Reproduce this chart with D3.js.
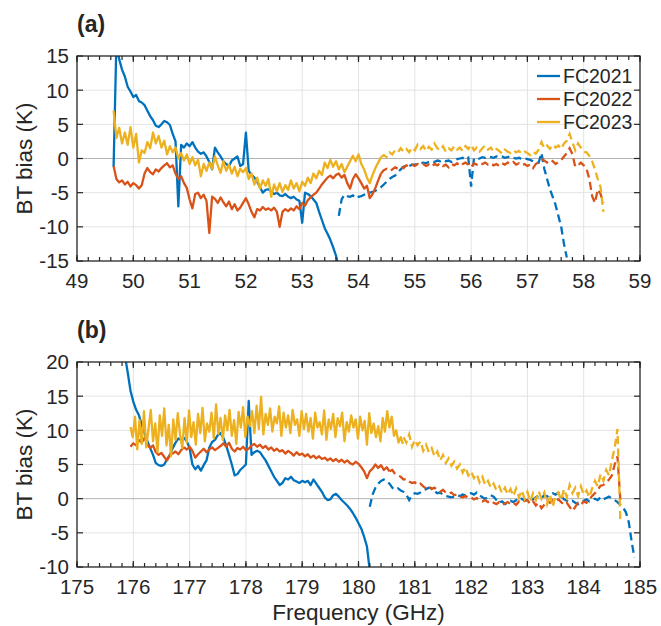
<!DOCTYPE html>
<html>
<head>
<meta charset="utf-8">
<script src="https://cdn.jsdelivr.net/npm/d3@7"></script>
<style>
  body { margin: 0; background: #fff; }
  svg { display: block; }
  text { font-family: "Liberation Sans", Arial, Helvetica, sans-serif; fill: #262626; }
</style>
</head>
<body>
<div id="chart"></div>
<script>
// legend / series names
const names = ["FC2021", "FC2022", "FC2023"]
const colors = ["#0072BD", "#D95319", "#EDB120"]

// tick labels
const xTicksA = [49, 50, 51, 52, 53, 54, 55, 56, 57, 58, 59]
const yTicksA = [-15, -10, -5, 0, 5, 10, 15]
const xTicksB = [175, 176, 177, 178, 179, 180, 181, 182, 183, 184, 185]
const yTicksB = [-10, -5, 0, 5, 10, 15, 20]

// panel (a), 0.05 GHz sampling, solid part then dashed part
const a2021Solid = [-1.2, 17, 14.5, 13.0, 12.0, 10.5, 9.8, 9.0, 9.3, 8.4, 8.2, 7.8, 7.0, 6.2, 5.6, 4.8, 4.6, 5.0, 5.5, 5.3,
  4.9, 3.6, 2.5, -7.0, 2.0, 1.6, 2.2, 1.8, 2.4, 1.6, 1.0, 0.7, 0.9, 0.3, -0.5, -1.6, 1.6, 0.9, 0.3, -0.4,
  -0.8, -1.1, -0.3, 0.0, 0.3, -1.1, -0.8, 3.8, -1.8, -2.4, -2.8, -3.4, -4.2, -5.0, -4.6, -4.5, -4.8, -5.2, -5.0, -5.4,
  -5.5, -5.2, -5.6, -5.8, -5.6, -6.0, -6.2, -9.4, -5.0, -5.2, -5.5, -6.0, -6.5, -7.8, -9.0, -10.2, -11.0, -11.9, -13.0, -14.2, -16]
const a2021Dash = [-8.4, -6.0, -5.3, -5.5, -5.6, -5.4, -5.8, -5.6, -5.5, -5.3, -5.2, -5.0, -4.9, -4.7, -4.5, -4.2, -3.8, -3.4, -3.0, -2.7,
  -2.5, -2.0, -1.6, -1.2, -1.0, -1.1, -0.9, -0.9, -0.8, -0.7, -0.6, -0.7, -0.5, -0.4, -0.5, -0.3, -0.4, -0.2, -0.4, -0.3,
  -0.5, -0.3, -0.1, 0.0, 0.1, -0.2, 0.1, -4.1, 0.0, -0.1, 0.0, 0.2, 0.1, 0.3, 0.2, 0.1, 0.3, 0.2, 0.3, 0.1,
  0.2, 0.3, 0.1, 0.0, 0.1, -0.1, 0.0, -0.1, -0.2, -0.4, -0.5, -0.6, 0.8, -1.5, -3.0, -4.5, -5.6, -6.8, -8.4, -10.0, -12.5, -14.5]
const a2022Solid = [-1.1, -3.0, -3.5, -3.2, -3.8, -3.4, -4.1, -3.6, -3.9, -4.4, -3.9, -2.2, -1.4, -2.0, -2.3, -1.6, -1.9, -1.4, -1.0, -0.7,
  -1.3, -1.0, -2.2, -3.0, -2.6, -3.6, -4.3, -6.0, -7.3, -5.2, -5.0, -5.8, -5.3, -6.2, -10.9, -5.6, -5.9, -6.5, -5.7, -6.4,
  -7.0, -6.3, -7.4, -6.7, -7.6, -7.2, -6.5, -5.8, -6.7, -7.8, -8.6, -7.4, -7.6, -7.1, -7.5, -7.3, -7.6, -7.2, -7.8, -10.0,
  -7.8, -7.4, -7.7, -7.3, -7.6, -7.0, -7.4, -6.5, -6.9, -6.1, -5.7, -5.3, -5.0, -4.4, -3.8, -3.3, -2.8, -2.5, -2.9, -2.4,
  -2.2, -2.8, -2.4, -3.6, -4.4, -3.0, -2.3, -2.9, -3.6, -4.4, -4.0, -5.8, -5.2, -4.3, -3.2, -2.2]
const a2022Dash = [-2.2, -1.7, -1.5, -1.8, -1.6, -1.3, -1.5, -1.2, -1.4, -1.0, -1.2, -0.9, -1.1, -0.8, -1.0, -0.8, -1.1, -0.9, -1.2, -0.8,
  -1.0, -0.7, -1.1, -0.9, -1.3, -0.8, -1.0, -0.7, -1.1, -0.8, -0.6, -0.9, -1.3, -0.7, -0.9, -0.6, -0.8, -0.6, -0.9, -0.7,
  -1.0, -0.8, -1.1, -0.7, -0.9, -0.6, -0.8, -0.5, -0.9, -0.7, -1.0, -0.8, -1.1, -0.9, -1.4, -0.8, -0.5, -0.1, -0.3, -0.6,
  -0.2, -0.4, -0.8, -0.5, -0.2, 0.3, 0.8, 1.5, 0.6, -1.2, -1.0, -0.6, -1.0, -1.5, -3.0, -5.5, -6.5, -4.5, -5.2, -6.5]
const a2023Solid = [7.0, 3.0, 4.5, 2.2, 3.8, 2.0, 4.6, 1.6, 3.6, -0.6, 1.2, 0.8, 2.4, 1.5, 3.8, 2.2, 3.3, 1.6, 2.6, 0.6,
  1.8, 0.9, 1.6, 0.0, 0.8, -0.3, 0.6, -0.8, 0.2, -1.0, -0.2, -2.6, -0.8, -1.8, -0.6, -1.5, 0.3, -1.0, -2.1, -0.4,
  -1.8, -0.9, -2.2, -1.2, -2.6, -1.5, -2.0, -1.4, -3.0, -2.2, -3.8, -2.8, -4.4, -3.2, -4.0, -3.0, -5.6, -3.8, -4.8, -3.6,
  -4.9, -3.9, -4.6, -3.2, -4.4, -3.6, -4.8, -3.4, -4.0, -2.8, -3.6, -2.2, -2.9, -1.8, -2.4, -0.6, -1.4, -0.2, -1.2, -0.4,
  -1.6, -0.8, -2.0, -1.2, -0.4, 0.4, -0.4, 0.6, -0.8, -1.6, -2.8, -3.6, -2.4, -1.4, -0.6, 0.2]
const a2023Dash = [0.2, 0.5, 0.2, 0.9, 0.6, 1.2, 0.9, 1.5, 1.0, 1.4, 0.9, 1.6, 1.2, 2.0, 1.4, 1.8, 1.1, 1.7, 1.3, 2.2,
  1.5, 1.2, 1.8, 1.0, 1.5, 1.2, 1.8, 1.3, 1.6, 1.1, 1.8, 1.4, 2.0, 1.2, 1.6, 1.0, 1.5, 1.9, 1.3, 1.6,
  1.0, 1.4, 1.1, 0.7, 1.3, 1.0, 0.8, 1.2, 0.9, 1.1, 0.7, 1.0, 0.8, 0.5, 1.0, 0.7, 1.3, 2.4, 1.5, 1.9,
  1.4, 2.0, 1.6, 1.9, 1.4, 2.2, 2.6, 3.6, 2.4, 1.2, 2.2, 1.6, 1.0, 0.9, 0.4, -0.4, -1.6, -3.0, -4.2, -7.8]

// panel (b)
const b2021Solid = [21, 18.5, 15.8, 14.2, 13.0, 12.2, 10.8, 9.6, 8.4, 7.4, 6.4, 5.2, 4.9, 4.8, 5.0, 5.8, 6.4, 7.4, 8.2, 8.8,
  8.6, 8.9, 8.4, 7.4, 5.0, 4.3, 4.8, 4.1, 4.9, 5.6, 7.5, 8.3, 8.6, 9.3, 9.6, 8.9, 7.8, 6.4, 5.0, 3.4,
  3.6, 4.2, 4.6, 5.0, 14.3, 6.4, 6.8, 7.0, 6.8, 6.2, 5.6, 4.8, 4.0, 3.2, 2.6, 2.0, 2.3, 3.0, 2.8, 3.2,
  2.7, 2.5, 2.3, 2.6, 2.4, 2.6, 2.0, 2.8, 2.2, 1.6, 1.0, 0.2, -0.2, -0.1, 0.5, 0.7, 0.3, -0.2, -0.6, -1.0,
  -1.5, -2.1, -2.8, -3.6, -4.4, -5.6, -7.0, -10.5]
const b2021Dash = [-1.2, 0.6, 1.6, 2.2, 2.6, 2.8, 2.6, 2.2, 1.6, 1.3, 1.5, 1.2, 1.0, 0.6, -0.2, 0.5, 0.8, 0.7, 0.9, 1.2,
  1.4, 1.6, 1.5, 1.1, 0.8, 0.9, 0.6, 0.4, 0.3, 0.2, 0.3, 0.5, 0.4, 0.6, 0.5, 0.7, 0.8, 0.6, 0.9, 0.5,
  0.2, 0.0, 0.2, 0.5, 0.3, -0.2, -0.6, -0.4, -0.8, -0.6, -0.3, -0.5, -0.2, -0.4, 0.0, -0.3, -0.2, 0.1, -0.1, 0.2,
  0.4, 0.1, 0.5, 0.3, 0.6, 0.8, 0.6, 0.9, 0.4, -0.1, -0.3, -0.5, -0.3, -0.6, -0.8, -0.5, -0.3, -0.1, -0.4, -0.2,
  0.0, -0.2, 0.2, -0.1, 0.1, 0.3, 0.0, -0.2, -0.5, -0.9, -1.3, -2.0, -3.4, -6.2, -8.6]
const b2022Solid = [7.6, 8.1, 7.8, 8.6, 8.2, 8.9, 7.9, 7.4, 7.8, 6.8, 6.4, 6.7, 6.1, 5.6, 6.4, 6.6, 6.9, 6.5, 7.1, 7.5,
  7.2, 7.6, 7.0, 6.0, 6.5, 6.9, 7.3, 6.8, 7.2, 7.5, 7.1, 7.4, 7.7, 8.1, 7.6, 8.2, 7.3, 6.9, 7.4, 7.2,
  7.6, 7.1, 7.3, 7.8, 8.0, 7.6, 7.9, 7.4, 7.7, 7.2, 7.5, 7.0, 7.3, 6.9, 7.1, 6.6, 7.0, 6.7, 6.3, 6.8,
  6.4, 6.6, 6.2, 6.5, 6.0, 6.3, 5.9, 6.2, 5.8, 6.0, 5.6, 5.9, 5.5, 5.8, 5.4, 5.7, 5.3, 5.6, 5.2, 5.0,
  5.4, 5.1, 4.6, 4.0, 3.0, 4.0, 4.4, 5.0, 4.5, 4.9, 4.2, 4.6, 4.0]
const b2022Dash = [4.0, 4.2, 3.6, 3.4, 3.2, 2.8, 2.9, 2.5, 2.3, 2.4, 2.0, 2.2, 1.8, 1.5, 1.8, 1.4, 1.6, 1.2, 1.0, 1.3,
  0.9, 0.7, 0.9, 0.5, 0.6, 0.3, 0.2, 0.4, 0.1, 0.2, -0.1, 0.1, -0.2, -0.4, -0.2, -0.5, -0.3, -0.6, -0.8, -0.5,
  -0.9, -0.7, -0.5, -0.8, -0.6, -0.9, -0.4, -0.6, -0.3, -0.2, -0.8, -0.4, -1.0, -0.6, -1.4, -0.9, -0.3, -0.6, -0.2, -0.4,
  -0.1, -0.5, -0.9, -0.6, -1.2, -1.8, -1.2, -0.6, -0.9, -0.4, -0.6, -0.1, 0.4, 0.8, 1.3, 1.9, 2.0, 2.4, 2.8, 3.4,
  5.0, 6.2, -0.2]
// yellow (b) solid part is sampled every 0.04 GHz
const b2023Solid = [10.5, 9.0, 12.0, 7.2, 11.5, 8.0, 12.8, 7.5, 10.2, 13.0,
  8.4, 11.0, 6.8, 12.2, 9.2, 13.2, 7.8, 10.8, 6.2, 11.6,
  8.6, 12.5, 9.4, 7.4, 11.8, 8.2, 12.9, 9.0, 11.2, 7.9,
  12.4, 9.6, 13.3, 8.4, 11.0, 9.8, 12.6, 8.8, 13.8, 9.5,
  11.8, 8.6, 12.2, 10.0, 13.0, 9.2, 11.5, 8.0, 12.7, 10.4,
  13.4, 9.0, 12.0, 10.6, 12.8, 9.6, 13.6, 10.2, 14.9, 9.4,
  12.4, 10.8, 13.2, 9.8, 12.0, 11.0, 13.5, 9.2, 12.6, 10.4,
  12.2, 9.6, 13.0, 10.8, 11.6, 9.2, 12.8, 10.2, 12.4, 9.8,
  11.8, 8.8, 12.6, 10.4, 11.2, 9.4, 12.9, 8.6, 11.6, 10.2,
  12.4, 9.0, 11.8, 10.6, 12.6, 8.4, 11.2, 9.8, 12.2, 10.4,
  11.6, 8.8, 12.0, 10.0, 11.4, 7.9, 12.5, 9.6, 11.0, 9.0,
  10.6, 8.4, 11.8, 9.8, 12.8, 10.4, 12.0, 9.2, 10.0, 8.2,
  9.0, 8.0]
const b2023Dash = [9.0, 8.2, 9.4, 7.6, 8.6, 7.8, 8.4, 7.0, 7.9, 6.8, 7.4, 6.2, 6.9, 5.6, 6.4, 5.2, 5.9, 4.8, 5.4, 4.4,
  5.0, 3.8, 4.6, 3.4, 4.0, 3.0, 3.6, 2.4, 3.2, 2.0, 2.6, 1.6, 2.2, 1.2, 1.8, 0.8, 1.6, 0.6, 1.4, 0.4,
  1.5, 0.2, 1.2, 0.0, 1.0, -0.4, 0.8, -0.2, 1.1, 0.0, 0.9, -0.8, 0.6, -1.2, 0.4, 0.9, -0.2, 1.4, 0.2, 2.0,
  0.8, 1.6, 0.4, 1.8, 0.6, 1.2, 0.2, 1.5, 2.6, 1.8, 3.6, 2.6, 4.2, 3.4, 5.6, 7.4, 10.2, -3.0]

const height = 626
const width = 661
const left = 77
const right = 640

const svg = d3.select('#chart')
  .append('svg')
  .attr('width', width)
  .attr('height', height)

function grid(start, step, values) {
  return values.map((v, i) => [start + i * step, v])
}

function drawPanel(cfg) {
  const x = d3.scaleLinear().domain(cfg.xDomain).range([left, right])
  const y = d3.scaleLinear().domain(cfg.yDomain).range([cfg.bottom, cfg.top])
  const g = svg.append('g').attr('class', cfg.id)

  // grid
  g.append('g').selectAll('line')
    .data(cfg.xTicks.slice(1, -1))
    .join('line')
    .attr('x1', d => x(d)).attr('x2', d => x(d))
    .attr('y1', cfg.top).attr('y2', cfg.bottom)
    .attr('stroke', '#e3e3e3').attr('stroke-width', 1)
  g.append('g').selectAll('line')
    .data(cfg.yTicks.slice(1, -1))
    .join('line')
    .attr('x1', left).attr('x2', right)
    .attr('y1', d => y(d)).attr('y2', d => y(d))
    .attr('stroke', d => d === 0 ? '#b3b3b3' : '#e3e3e3').attr('stroke-width', 1)

  // clip
  g.append('clipPath').attr('id', 'clip-' + cfg.id)
    .append('rect')
    .attr('x', left).attr('y', cfg.top)
    .attr('width', right - left).attr('height', cfg.bottom - cfg.top)

  const line = d3.line().x(d => x(d[0])).y(d => y(d[1]))
  const lines = g.append('g').attr('clip-path', `url(#clip-${cfg.id})`)

  cfg.series.forEach((s, i) => {
    lines.append('path')
      .datum(s.solid)
      .attr('d', line)
      .attr('fill', 'none')
      .attr('stroke', colors[i])
      .attr('stroke-width', 2.3)
      .attr('stroke-linejoin', 'round')
    lines.append('path')
      .datum(s.dash)
      .attr('d', line)
      .attr('fill', 'none')
      .attr('stroke', colors[i])
      .attr('stroke-width', 2.3)
      .attr('stroke-dasharray', '8,4.5')
  })

  // box
  g.append('rect')
    .attr('x', left).attr('y', cfg.top)
    .attr('width', right - left).attr('height', cfg.bottom - cfg.top)
    .attr('fill', 'none').attr('stroke', '#262626').attr('stroke-width', 1.3)

  // ticks, inward, on all four sides; minor ticks on x
  const minor = d3.range(cfg.xDomain[0], cfg.xDomain[1] + 0.001, 0.2)
  const tk = g.append('g').attr('stroke', '#262626').attr('stroke-width', 1.2)
  tk.selectAll('.xmin').data(minor).join('line').attr('class', 'xmin')
    .attr('x1', d => x(d)).attr('x2', d => x(d))
    .attr('y1', cfg.bottom).attr('y2', cfg.bottom - 4)
  tk.selectAll('.xmint').data(minor).join('line').attr('class', 'xmint')
    .attr('x1', d => x(d)).attr('x2', d => x(d))
    .attr('y1', cfg.top).attr('y2', cfg.top + 4)
  tk.selectAll('.xmaj').data(cfg.xTicks).join('line').attr('class', 'xmaj')
    .attr('x1', d => x(d)).attr('x2', d => x(d))
    .attr('y1', cfg.bottom).attr('y2', cfg.bottom - 6)
  tk.selectAll('.xmajt').data(cfg.xTicks).join('line').attr('class', 'xmajt')
    .attr('x1', d => x(d)).attr('x2', d => x(d))
    .attr('y1', cfg.top).attr('y2', cfg.top + 6)
  tk.selectAll('.ymaj').data(cfg.yTicks).join('line').attr('class', 'ymaj')
    .attr('x1', left).attr('x2', left + 6)
    .attr('y1', d => y(d)).attr('y2', d => y(d))
  tk.selectAll('.ymajr').data(cfg.yTicks).join('line').attr('class', 'ymajr')
    .attr('x1', right).attr('x2', right - 6)
    .attr('y1', d => y(d)).attr('y2', d => y(d))

  // tick labels
  g.append('g').selectAll('text')
    .data(cfg.xTicks)
    .join('text')
    .attr('x', d => x(d))
    .attr('y', cfg.bottom + 27)
    .attr('text-anchor', 'middle')
    .attr('font-size', 20.5)
    .text(d => d)
  g.append('g').selectAll('text')
    .data(cfg.yTicks)
    .join('text')
    .attr('x', left - 8)
    .attr('y', d => y(d))
    .attr('dy', '0.36em')
    .attr('text-anchor', 'end')
    .attr('font-size', 20.5)
    .text(d => d)

  // y label
  g.append('text')
    .attr('transform', `translate(32 ${(cfg.top + cfg.bottom) / 2}) rotate(-90)`)
    .attr('text-anchor', 'middle')
    .attr('font-size', 22.5)
    .text('BT bias (K)')

  // panel letter
  g.append('text')
    .attr('x', left)
    .attr('y', cfg.top - 24)
    .attr('font-size', 23)
    .attr('font-weight', 'bold')
    .attr('fill', '#000')
    .text(cfg.letter)

  return { x, y, g }
}

const panelA = drawPanel({
  id: 'pa', letter: '(a)', top: 56, bottom: 261,
  xDomain: [49, 59], yDomain: [-15, 15], xTicks: xTicksA, yTicks: yTicksA,
  series: [
    { solid: grid(49.65, 0.05, a2021Solid), dash: grid(53.65, 0.05, a2021Dash) },
    { solid: grid(49.65, 0.05, a2022Solid), dash: grid(54.40, 0.05, a2022Dash) },
    { solid: grid(49.65, 0.05, a2023Solid), dash: grid(54.40, 0.05, a2023Dash) }
  ]
})

drawPanel({
  id: 'pb', letter: '(b)', top: 362, bottom: 567,
  xDomain: [175, 185], yDomain: [-10, 20], xTicks: xTicksB, yTicks: yTicksB,
  series: [
    { solid: grid(175.85, 0.05, b2021Solid), dash: grid(180.20, 0.05, b2021Dash) },
    { solid: grid(175.95, 0.05, b2022Solid), dash: grid(180.55, 0.05, b2022Dash) },
    { solid: grid(175.95, 0.04, b2023Solid), dash: grid(180.80, 0.05, b2023Dash) }
  ]
})

// x label
svg.append('text')
  .attr('x', (left + right) / 2)
  .attr('y', 620)
  .attr('text-anchor', 'middle')
  .attr('font-size', 22.5)
  .text('Frequency (GHz)')

// legend in panel (a)
const legend = panelA.g.append('g')
names.forEach((n, i) => {
  const cy = 76 + i * 23
  legend.append('line')
    .attr('x1', 537).attr('x2', 560)
    .attr('y1', cy).attr('y2', cy)
    .attr('stroke', colors[i]).attr('stroke-width', 2.3)
  legend.append('text')
    .attr('x', 563).attr('y', cy)
    .attr('dy', '0.36em')
    .attr('font-size', 19.5)
    .text(n)
})
</script>
</body>
</html>
